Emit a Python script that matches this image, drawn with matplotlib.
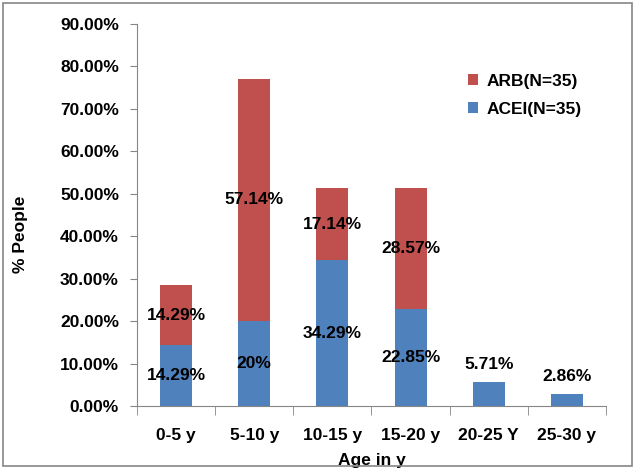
import numpy as np
import matplotlib
matplotlib.use("Agg")
import matplotlib.pyplot as plt
from matplotlib.patches import Rectangle

plt.rcParams['font.family'] = ['Liberation Sans', 'DejaVu Sans']
plt.rcParams['font.weight'] = 'bold'

# data
age_groups = ["0-5 y", "5-10 y", "10-15 y", "15-20 y", "20-25 Y", "25-30 y"]
acei = [14.29, 20, 34.29, 22.85, 5.71, 2.86]
arb = [14.29, 57.14, 17.14, 28.57, 0, 0]
acei_labels = ["14.29%", "20%", "34.29%", "22.85%", "5.71%", "2.86%"]
arb_labels = ["14.29%", "57.14%", "17.14%", "28.57%", "", ""]

blue = "#4F81BD"
red = "#C0504D"
axis_col = "#868686"

fig = plt.figure(figsize=(6.36, 4.71), dpi=100)
ax = fig.add_axes([0.2154, 0.138, 0.7374, 0.811])

x = np.arange(len(age_groups))
w = 0.41
b1 = ax.bar(x, acei, w, color=blue, label="ACEI(N=35)")
b2 = ax.bar(x, arb, w, bottom=acei, color=red, label="ARB(N=35)")

fs = 12.5
# labels on the bars
for i in range(len(x)):
    if arb[i] > 0:
        ax.text(x[i], acei[i] / 2, acei_labels[i], ha='center', va='center',
                fontsize=fs, fontweight='bold')
        ax.text(x[i], acei[i] + arb[i] / 2, arb_labels[i], ha='center', va='center',
                fontsize=fs, fontweight='bold')
    else:
        ax.text(x[i], acei[i] + 4.0, acei_labels[i], ha='center', va='center',
                fontsize=fs, fontweight='bold')

ax.set_xlim(-0.5, len(x) - 0.5)
ax.set_ylim(0, 90)
ax.set_yticks(np.arange(0, 91, 10))
ax.set_yticklabels(["%.2f%%" % v for v in np.arange(0, 91, 10)], fontsize=fs, fontweight='bold')

# category labels centred, ticks on boundaries
ax.set_xticks(x)
ax.set_xticklabels(age_groups, fontsize=fs, fontweight='bold')
ax.tick_params(axis='x', length=0, pad=16)
ax.set_xticks(np.arange(-0.5, len(x), 1), minor=True)
ax.tick_params(axis='x', which='minor', length=6.5, color=axis_col, direction='out')
ax.tick_params(axis='y', length=5, color=axis_col, direction='out', pad=8)

for s in ['top', 'right']:
    ax.spines[s].set_visible(False)
for s in ['left', 'bottom']:
    ax.spines[s].set_color(axis_col)

ax.set_xlabel("Age in y", fontsize=fs, fontweight='bold', labelpad=7)
ax.set_ylabel("% People", fontsize=fs, fontweight='bold')
ax.yaxis.set_label_coords(-0.232, 0.45)

handles = [b2, b1]
ax.legend(handles, [h.get_label() for h in handles], loc='upper left',
          bbox_to_anchor=(0.672, 0.91), frameon=False, fontsize=fs,
          handlelength=0.6, handleheight=0.6, handletextpad=0.5, labelspacing=0.75,
          prop={'weight': 'bold', 'size': fs})

# outer frame
fig.patches.append(Rectangle((3 / 636, 5 / 471), 629 / 636, 463 / 471,
                             transform=fig.transFigure, fill=False,
                             edgecolor=axis_col, linewidth=1.2))

fig.savefig("out.png", dpi=100)
